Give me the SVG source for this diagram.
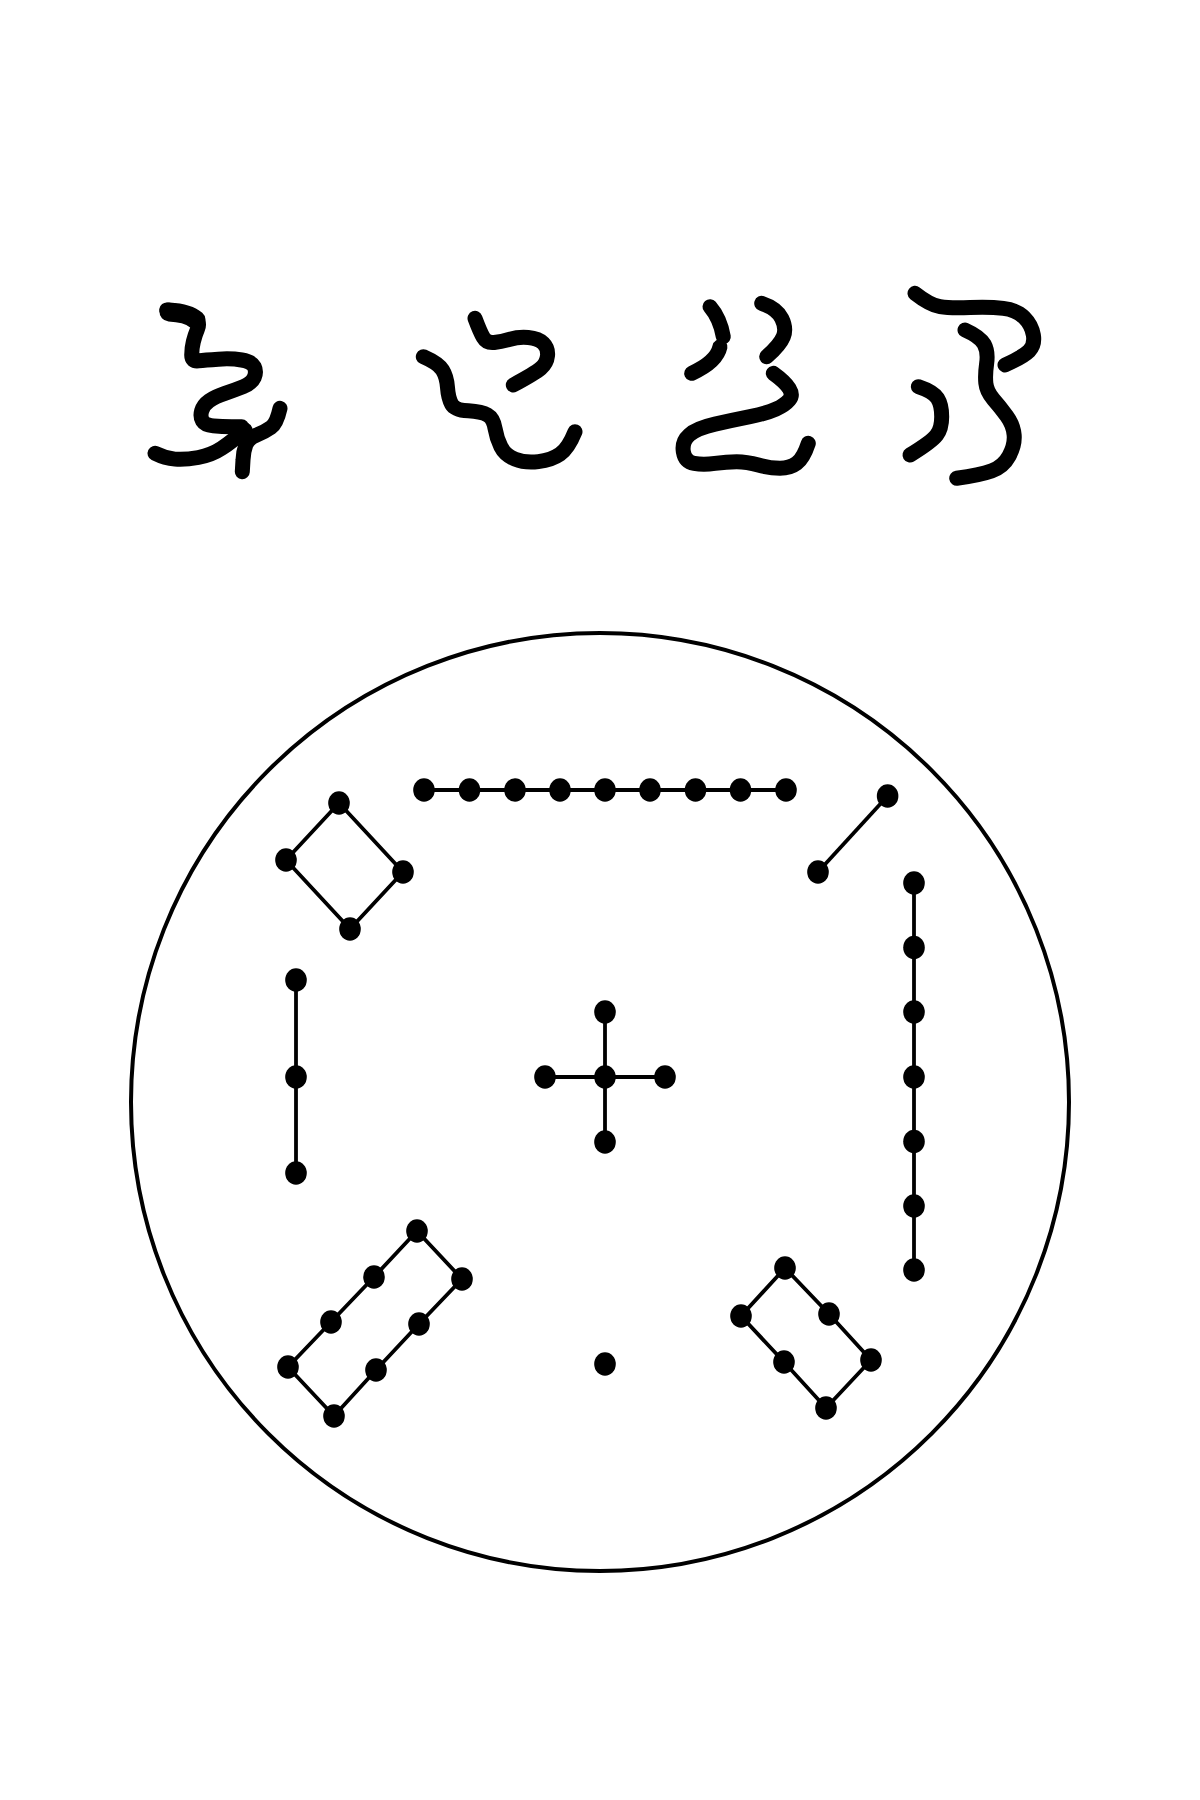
<svg xmlns="http://www.w3.org/2000/svg" width="1200" height="1800" viewBox="0 0 1200 1800">
<style>
.g{fill:none;stroke:#000;stroke-width:15;stroke-linecap:round;stroke-linejoin:round}
.h{fill:none;stroke:#000;stroke-width:19;stroke-linecap:round;stroke-linejoin:round}
.e{stroke:#000;stroke-width:3.8;fill:none}
.d{fill:#000}
</style>
<defs><ellipse id="dot" cx="0" cy="0" rx="10.8" ry="11.8" class="d"/></defs>
<rect width="1200" height="1800" fill="#fff"/>
<g id="glyphs">
<g id="glyph1">
<path class="h" d="M169,312 Q188,313 196,320"/>
<path class="g" d="M166.7,310 Q191.7,313.3 195.85,318.3 Q200,323.3 197.5,329.15 Q195,335 193.35,341.65 Q191.7,348.3 191.7,355 Q191.7,361.7 198.35,360.85 Q205,360 218.35,359.15 Q231.7,358.3 241.7,360 Q251.7,361.7 254.2,366.7 Q256.7,371.7 254.2,377.5 Q251.7,383.3 243.35,386.65 Q235,390 225,393.35 Q215,396.7 209.15,400.85 Q203.3,405 201.65,410.85 Q200,416.7 202.5,420.85 Q205,425 213.35,425.85 Q221.7,426.7 231.7,426.7 L241.7,426.7"/>
<path class="g" d="M245,430 Q231.7,441.7 221.7,448.35 Q211.7,455 198.35,457.5 Q185,460 175,459.15 Q165,458.3 155,453.3"/>
<path class="g" d="M280,408.3 Q276.7,423.3 270.85,427.5 Q265,431.7 256.65,435 Q248.3,438.3 245.8,445 Q243.3,451.7 243,460 L242.3,471.7"/>
</g>
<g id="glyph2">
<path class="g" d="M475,318.3 Q480,331.7 483.35,337.5 Q486.7,343.3 494.2,342.5 Q501.7,341.7 510,339.2 Q518.3,336.7 528.3,337.5 Q538.3,338.3 543.3,343.3 Q548.3,348.3 547.5,355.8 Q546.7,363.3 540.85,368.3 Q535,373.3 513.3,385"/>
<path class="g" d="M423.3,356.7 Q438.3,363.3 442.5,370 Q446.7,376.7 447.5,387.5 Q448.3,398.3 451.65,404.15 Q455,410 468.35,410.85 Q481.7,411.7 487.5,415 Q493.3,418.3 495,428.3 Q496.7,438.3 500.85,446.65 Q505,455 515,459.15 Q525,463.3 538.35,461.65 Q551.7,460 560,454.15 Q568.3,448.3 575,431.7"/>
</g>
<g id="glyph3">
<path class="g" d="M710,306.7 Q720,318.3 723.3,336.7"/>
<path class="g" d="M720,346.7 Q716.7,362 691.7,373.3"/>
<path class="g" d="M761.7,303.3 Q776.7,308.3 781.7,318.3 Q786.7,328.3 783.35,336.65 Q780,345 766.7,356.7"/>
<path class="g" d="M773.3,373.3 Q785,381.7 789.15,388.35 Q793.3,395 789.15,400 Q785,405 775.85,409.15 Q766.7,413.3 750,416.65 Q733.3,420 715,424.15 Q696.7,428.3 689.2,435 Q681.7,441.7 683.35,451.7 Q685,461.7 694.15,463.35 Q703.3,465 715,463.35 Q726.7,461.7 736.7,461.7 Q746.7,461.7 758.35,465 Q770,468.3 780,468.3 Q790,468.3 796.65,463.3 Q803.3,458.3 808.3,443.3"/>
</g>
<g id="glyph4">
<path class="g" d="M915,293.3 Q930,305 940,306.65 Q950,308.3 970,307.5 Q990,306.7 1003.35,308.35 Q1016.7,310 1024.2,317.5 Q1031.7,325 1033.35,335 Q1035,345 1029.15,350.85 Q1023.3,356.7 1005,365"/>
<path class="g" d="M965,330 Q980,336.7 984.15,344.2 Q988.3,351.7 986.65,363.35 Q985,375 985.85,383.35 Q986.7,391.7 993.35,399.2 Q1000,406.7 1006.65,415.85 Q1013.3,425 1014.15,435 Q1015,445 1009.15,455.85 Q1003.3,466.7 991.65,470.85 Q980,475 956.7,478.3"/>
<path class="g" d="M918.3,386.7 Q933.3,391.7 937.5,398.35 Q941.7,405 941.7,416.65 Q941.7,428.3 936.7,435 Q931.7,441.7 910,455"/>
</g>
</g>
<circle id="boundary" cx="600" cy="1102" r="469" fill="none" stroke="#000" stroke-width="4"/>
<g id="connectors">
<polyline class="e" points="424,790 786,790"/>
<polygon class="e" points="339,803 286,860 350,929 403,872"/>
<line class="e" x1="887.6" y1="796" x2="818" y2="872"/>
<polyline class="e" points="914,883 914,1270"/>
<polyline class="e" points="296,980 296,1173"/>
<polyline class="e" points="605,1012 605,1142"/>
<polyline class="e" points="545,1077 665,1077"/>
<polygon class="e" points="417,1231 374,1277 331,1322 288,1367 334,1416 376,1370 419,1324 462,1279"/>
<polygon class="e" points="785,1268 741,1316 784,1362 826,1408 871,1360 829,1314"/>
</g>
<g id="row-top">
<use href="#dot" x="424" y="790"/><use href="#dot" x="469.5" y="790"/><use href="#dot" x="515" y="790"/><use href="#dot" x="560" y="790"/><use href="#dot" x="605" y="790"/><use href="#dot" x="650" y="790"/><use href="#dot" x="695.5" y="790"/><use href="#dot" x="740.5" y="790"/><use href="#dot" x="786" y="790"/>
</g>
<g id="diamond-ul">
<use href="#dot" x="339" y="803"/><use href="#dot" x="286" y="860"/><use href="#dot" x="403" y="872"/><use href="#dot" x="350" y="929"/>
</g>
<g id="pair-ur">
<use href="#dot" x="887.6" y="796"/><use href="#dot" x="818" y="872"/>
</g>
<g id="column-right">
<use href="#dot" x="914" y="883"/><use href="#dot" x="914" y="947.5"/><use href="#dot" x="914" y="1012"/><use href="#dot" x="914" y="1077"/><use href="#dot" x="914" y="1141.5"/><use href="#dot" x="914" y="1206"/><use href="#dot" x="914" y="1270"/>
</g>
<g id="column-left">
<use href="#dot" x="296" y="980"/><use href="#dot" x="296" y="1077"/><use href="#dot" x="296" y="1173"/>
</g>
<g id="cross">
<use href="#dot" x="605" y="1012"/><use href="#dot" x="545" y="1077"/><use href="#dot" x="605" y="1077"/><use href="#dot" x="665" y="1077"/><use href="#dot" x="605" y="1142"/>
</g>
<g id="rect-ll">
<use href="#dot" x="417" y="1231"/><use href="#dot" x="374" y="1277"/><use href="#dot" x="331" y="1322"/><use href="#dot" x="288" y="1367"/><use href="#dot" x="334" y="1416"/><use href="#dot" x="376" y="1370"/><use href="#dot" x="419" y="1324"/><use href="#dot" x="462" y="1279"/>
</g>
<g id="single">
<use href="#dot" x="605" y="1364"/>
</g>
<g id="rect-lr">
<use href="#dot" x="785" y="1268"/><use href="#dot" x="741" y="1316"/><use href="#dot" x="784" y="1362"/><use href="#dot" x="826" y="1408"/><use href="#dot" x="871" y="1360"/><use href="#dot" x="829" y="1314"/>
</g>
</svg>
